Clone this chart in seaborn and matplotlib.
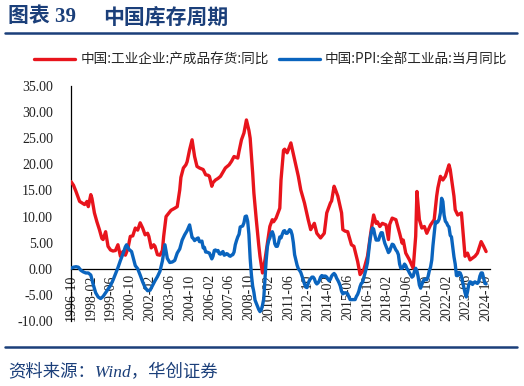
import pandas as pd
import matplotlib
matplotlib.use('Agg')
import matplotlib.pyplot as plt
import matplotlib.dates as mdates
from matplotlib.lines import Line2D
from matplotlib.ticker import FormatStrFormatter
import seaborn as sns

sns.set_theme(style='white')
plt.rcParams['font.family'] = ['Liberation Serif', 'Noto Sans CJK SC', 'DejaVu Sans']
plt.rcParams['axes.unicode_minus'] = False

# 中国:工业企业:产成品存货:同比
inv_dates = [
    '1996-10', '1996-12',
    '1997-02', '1997-05', '1997-07', '1997-09', '1997-11', '1997-12',
    '1998-02', '1998-03', '1998-05', '1998-07', '1998-09', '1998-11', '1998-12',
    '1999-02', '1999-04', '1999-06', '1999-08', '1999-10', '1999-12',
    '2000-02', '2000-04', '2000-06', '2000-08', '2000-10', '2000-12',
    '2001-02', '2001-04', '2001-06', '2001-08', '2001-10', '2001-12',
    '2002-01', '2002-03', '2002-05', '2002-06', '2002-08', '2002-10', '2002-12',
    '2003-01', '2003-03', '2003-05', '2003-07', '2003-10', '2003-12',
    '2004-02', '2004-03', '2004-05', '2004-07', '2004-08', '2004-10', '2004-12',
    '2005-02', '2005-04', '2005-06', '2005-09', '2005-11',
    '2006-01', '2006-02', '2006-04', '2006-05', '2006-07', '2006-09', '2006-11',
    '2007-01', '2007-03', '2007-06', '2007-08', '2007-10',
    '2008-01', '2008-02', '2008-04', '2008-06', '2008-08', '2008-10', '2008-11',
    '2009-01', '2009-02', '2009-04', '2009-06', '2009-07', '2009-09', '2009-11',
    '2010-01', '2010-03', '2010-05', '2010-06', '2010-08', '2010-10', '2010-11', '2010-12',
    '2011-02', '2011-03', '2011-05', '2011-06', '2011-08', '2011-09', '2011-11',
    '2012-02', '2012-04', '2012-07', '2012-10', '2012-12',
    '2013-03', '2013-05', '2013-08', '2013-11',
    '2014-01', '2014-04', '2014-05', '2014-07', '2014-08', '2014-10',
    '2015-01', '2015-02', '2015-04', '2015-06', '2015-09', '2015-11',
    '2016-02', '2016-04', '2016-07', '2016-10',
    '2017-01', '2017-03', '2017-05', '2017-06', '2017-08', '2017-10',
    '2018-01', '2018-03', '2018-04', '2018-06', '2018-09', '2018-12',
    '2019-02', '2019-03', '2019-05', '2019-08', '2019-11',
    '2020-01', '2020-02', '2020-04', '2020-06', '2020-08', '2020-10',
    '2021-01', '2021-04', '2021-06', '2021-07', '2021-09', '2021-11',
    '2022-01', '2022-04', '2022-05', '2022-08', '2022-09', '2022-11',
    '2023-02', '2023-05', '2023-07', '2023-09',
    '2024-01', '2024-03', '2024-06', '2024-08', '2024-10',
]
inv_values = [
    16.7, 16.0,
    14.8, 12.9, 12.6, 12.3, 12.9, 11.9,
    14.2, 13.5, 10.7, 9.0, 7.5, 5.8, 5.6,
    7.1, 4.3, 3.6, 3.4, 3.5, 4.6,
    2.4, 3.3, 2.6, 3.8, 6.2, 6.3,
    7.8, 7.4, 8.8, 7.8, 6.5, 6.8,
    6.2, 4.0, 4.6, 4.3, 2.7, 2.6, 3.5,
    6.2, 10.0, 10.6, 11.2, 11.6, 11.9,
    15.1, 17.5, 19.3, 19.9, 20.5, 22.8, 24.7,
    21.5, 19.6, 19.3, 19.0, 18.0,
    17.9, 17.7, 15.8, 16.5, 17.0, 17.3, 17.7,
    18.5, 19.3, 19.9, 20.6, 21.5,
    21.2, 22.5, 24.7, 26.0, 28.5, 26.5, 25.0,
    18.4, 14.5, 9.4, 4.5, 2.4, -0.8, 1.7,
    5.0, 8.1, 9.4, 9.0, 9.7, 11.0, 11.6, 17.0,
    22.7, 22.9, 22.2, 22.8, 24.1, 23.0, 20.9,
    17.7, 15.1, 12.6, 9.4, 7.5,
    8.7, 6.8, 5.9, 6.8,
    10.7, 12.6, 13.0, 15.8, 15.2, 13.9,
    10.7, 7.5, 7.2, 7.1, 4.6, 4.3,
    1.4, -1.1, -0.2, 2.4,
    7.5, 10.3, 8.7, 9.0, 8.1, 8.7,
    8.4, 5.6, 8.5, 9.7, 9.4, 6.8,
    4.9, 5.5, 3.0, 1.7, 0.1,
    6.2, 14.8, 9.4, 7.8, 8.1, 6.8,
    8.4, 9.4, 13.9, 15.5, 17.7, 17.0,
    17.7, 19.9, 19.0, 13.9, 11.3, 10.3,
    10.7, 2.4, 3.0, 1.7,
    2.4, 3.0, 5.2, 4.3, 3.3,
]

# 中国:PPI:全部工业品:当月同比
ppi_early_dates = [
    '1996-10', '1996-12',
    '1997-02', '1997-04', '1997-06', '1997-08', '1997-10', '1997-12',
    '1998-02', '1998-04', '1998-06', '1998-08', '1998-10', '1998-12',
    '1999-02', '1999-04', '1999-06', '1999-08', '1999-10', '1999-12',
    '2000-02', '2000-04', '2000-06', '2000-07', '2000-09', '2000-11',
    '2001-02', '2001-04', '2001-06', '2001-08', '2001-10', '2001-12',
    '2002-02', '2002-04', '2002-06', '2002-08', '2002-10', '2002-12',
    '2003-02', '2003-04', '2003-06', '2003-08', '2003-10', '2003-12',
    '2004-02', '2004-04', '2004-06', '2004-08', '2004-10', '2004-12',
]
ppi_early_values = [
    0.1, 0.3,
    0.4, 0.3, -0.3, -0.6, -0.8, -0.8,
    -1.2, -3.0, -4.6, -5.4, -5.7, -5.3,
    -4.6, -3.9, -3.2, -2.2, -1.0, 0.2,
    1.6, 2.8, 4.2, 4.6, 3.7, 3.3,
    0.6, 0.0, -1.2, -2.5, -3.6, -4.2,
    -4.1, -3.2, -2.3, -1.5, -0.5, 1.5,
    4.6, 2.0, 1.2, 1.3, 1.6, 3.0,
    3.8, 5.5, 6.5, 7.3, 8.4, 6.0,
]
ppi_monthly_start = '2005-01'
ppi_monthly_values = [
    5.8, 5.4, 5.6, 5.8, 5.9, 5.2, 5.2, 5.3, 4.0, 4.1, 3.2, 3.2,
    3.1, 3.0, 2.5, 1.9, 2.4, 3.5, 3.6, 3.4, 3.5, 2.9, 2.8, 3.1,
    3.3, 2.6, 2.7, 2.9, 2.8, 2.5, 2.4, 2.6, 2.7, 3.2, 4.6, 5.4,
    6.1, 6.6, 8.0, 8.1, 8.2, 8.8, 10.0, 10.1, 9.1, 6.6, 2.0, -1.1,
    -3.3, -4.5, -6.0, -6.6, -7.2, -7.8, -8.2, -7.9, -7.0, -5.8, -2.1, 1.7,
    4.3, 5.4, 5.9, 6.8, 7.1, 6.4, 4.8, 4.3, 4.3, 5.0, 6.1, 5.9,
    6.6, 7.2, 7.3, 6.8, 6.8, 7.1, 7.5, 7.3, 6.5, 5.0, 2.7, 1.7,
    0.7, 0.0, -0.3, -0.7, -1.4, -2.1, -2.9, -3.5, -3.6, -2.8, -2.2, -1.9,
    -1.6, -1.6, -1.9, -2.6, -2.9, -2.7, -2.3, -1.6, -1.3, -1.5, -1.4, -1.4,
    -1.6, -2.0, -2.3, -2.0, -1.4, -1.1, -0.9, -1.2, -1.8, -2.2, -2.7, -3.3,
    -4.3, -4.8, -4.6, -4.6, -4.6, -4.8, -5.4, -5.9, -5.9, -5.9, -5.9, -5.9,
    -5.3, -4.9, -4.3, -3.4, -2.8, -2.6, -1.7, -0.8, 0.1, 1.2, 3.3, 5.5,
    6.9, 7.8, 7.6, 6.4, 5.5, 5.5, 5.5, 6.3, 6.9, 6.9, 5.8, 4.9,
    4.3, 3.7, 3.1, 3.4, 4.1, 4.7, 4.6, 4.1, 3.6, 3.3, 2.7, 0.9,
    0.1, 0.1, 0.4, 0.9, 0.6, 0.0, -0.3, -0.8, -1.2, -1.6, -1.4, -0.5,
    0.1, -0.4, -1.5, -3.1, -3.7, -3.0, -2.4, -2.0, -2.1, -2.1, -1.5, -0.4,
    0.3, 1.7, 4.4, 6.8, 9.0, 8.8, 9.0, 9.5, 10.7, 13.5, 12.9, 10.3,
    9.1, 8.8, 8.3, 8.0, 6.4, 6.1, 4.2, 2.3, 0.9, -1.3, -1.3, -0.7,
    -0.8, -1.4, -2.5, -3.6, -4.6, -5.4, -4.4, -3.0, -2.5, -2.6, -3.0, -2.7,
    -2.5, -2.7, -2.8, -2.5, -1.4, -0.8, -0.8, -1.8, -2.8, -2.9,
]

inv_label = '中国:工业企业:产成品存货:同比'
ppi_label = '中国:PPI:全部工业品:当月同比'
red = '#E8141C'
blue = '#0A64BE'
navy = '#1B3F7A'
serif = ['Liberation Serif', 'Noto Sans CJK SC']

df_inv = pd.DataFrame({'日期': pd.to_datetime(inv_dates), '值': inv_values})
ppi_dates = list(pd.to_datetime(ppi_early_dates)) + list(
    pd.date_range(ppi_monthly_start, periods=len(ppi_monthly_values), freq='MS'))
df_ppi = pd.DataFrame({'日期': ppi_dates, '值': ppi_early_values + ppi_monthly_values})

fig = plt.figure(figsize=(5.24, 3.86), dpi=100)
ax = fig.add_axes([71 / 524, 65 / 386, 419 / 524, 235 / 386])

sns.lineplot(data=df_inv, x='日期', y='值', color=red, lw=2.4, ax=ax, zorder=3)
sns.lineplot(data=df_ppi, x='日期', y='值', color=blue, lw=2.4, ax=ax, zorder=3)

ax.set_ylim(-10, 35)
ax.set_yticks(range(-10, 36, 5))
ax.yaxis.set_major_formatter(FormatStrFormatter('%.2f'))
ax.set_xlim(pd.Timestamp('1996-10-01'), pd.Timestamp('2025-01-05'))
ax.set_xticks(pd.date_range('1996-10-01', '2024-10-01', freq='16MS'))
ax.xaxis.set_major_formatter(mdates.DateFormatter('%Y-%m'))
ax.set_xlabel('')
ax.set_ylabel('')

for s in ['top', 'right']:
    ax.spines[s].set_visible(False)
ax.spines['bottom'].set_position(('data', 0))
ax.spines['left'].set_color('black')
ax.spines['bottom'].set_color('black')
ax.spines['left'].set_linewidth(0.9)
ax.spines['bottom'].set_linewidth(0.9)
ax.tick_params(axis='y', direction='out', length=4, width=0.9, color='black',
               pad=9, labelsize=10, labelcolor='#222222')
ax.tick_params(axis='x', direction='out', length=3, width=0.9, color='black',
               pad=1, labelsize=10, labelcolor='#222222', labelrotation=90)
for lbl in ax.get_xticklabels() + ax.get_yticklabels():
    lbl.set_fontfamily(serif)

handles = [Line2D([], [], color=red, lw=2.4), Line2D([], [], color=blue, lw=2.4)]
fig.legend(handles, [inv_label, ppi_label], loc='center', bbox_to_anchor=(0.517, 0.845),
           ncol=2, frameon=False, handlelength=3.0, handletextpad=0.4,
           columnspacing=0.7, prop={'family': ['Noto Sans CJK SC'], 'size': 9.8})

fig.text(8 / 524, 1 - 17 / 386, '图表 39', fontsize=15, fontweight='bold', color=navy,
         va='center', ha='left', family=serif)
fig.text(103 / 524, 1 - 17 / 386, '中国库存周期', fontsize=15, fontweight='bold', color=navy,
         va='center', ha='left', family=['Noto Sans CJK SC'])
fig.add_artist(Line2D([5 / 524, 517 / 524], [1 - 33 / 386] * 2, transform=fig.transFigure,
                      color=navy, lw=1.8))
fig.add_artist(Line2D([5 / 524, 517 / 524], [1 - 347 / 386] * 2, transform=fig.transFigure,
                      color=navy, lw=1.8))
fig.text(8 / 524, 1 - 373 / 386, '资料来源：Wind，华创证券', fontsize=12.5, style='italic',
         color=navy, va='center', ha='left', family=serif)

fig.savefig('out.png', dpi=100)
